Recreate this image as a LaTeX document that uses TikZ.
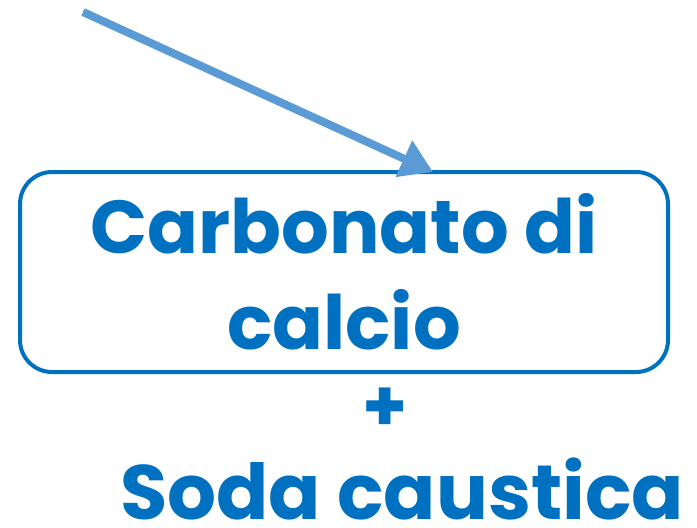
\documentclass[tikz,border=0pt]{standalone}
\usepackage{fontspec}
\setmainfont{Poppins}
\usepackage{tikz}
\usetikzlibrary{arrows.meta,positioning,calc}
\definecolor{chemblue}{RGB}{0,112,192}
\definecolor{arrowblue}{RGB}{91,155,213}

\tikzset{
  reagentbox/.style={draw=chemblue, line width=4pt, rounded corners=32pt, minimum width=648pt, minimum height=200pt, align=center, text=chemblue, font=\fontsize{75}{96}\selectfont\bfseries},
  reagent/.style={text=chemblue, font=\fontsize{72}{86}\selectfont\bfseries, inner sep=0pt},
  feed/.style={draw=arrowblue, line width=8pt, -{Triangle[width=38pt,length=32pt]}}
}

\begin{document}
\begin{tikzpicture}[x=1pt,y=-1pt]
\useasboundingbox (0,0) rectangle (697,528);
\node[reagentbox] (carbonato) at (344,272) {Carbonato di\\calcio};
\node[reagent] (plus) at (385,410) {+};
\node[reagent, anchor=base, font=\fontsize{77}{86}\selectfont\bfseries] (soda) at (402,519) {Soda caustica};
% freccia in ingresso
\coordinate (origin) at (83,12);
\coordinate (tip) at (433,172);
\draw[feed] (origin) -- (tip);
\end{tikzpicture}
\end{document}
